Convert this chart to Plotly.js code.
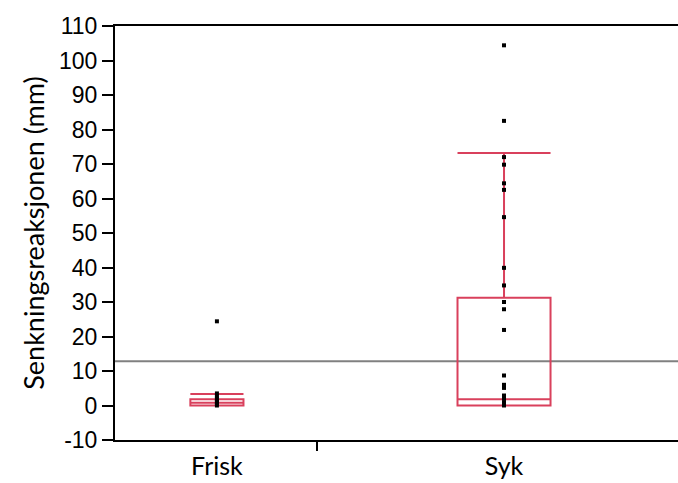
<!DOCTYPE html>
<html>
<head>
<meta charset="utf-8">
<script src="https://cdn.plot.ly/plotly-3.0.1.min.js"></script>
<style>html,body{margin:0;padding:0;background:#fff;}#chart{width:678px;height:483px;}</style>
</head>
<body>
<div id="chart"></div>
<script>
const categories = ["Frisk", "Syk"];
const friskValues = [24.4, 3.5, 2.8, 2.0, 1.5, 1.0, 0.5, 0];
const sykValues = [104.4, 82.5, 72.0, 69.8, 64.4, 62.5, 54.6, 39.9, 34.8, 30.0, 27.9, 21.9, 8.7, 6.0, 5.1, 2.9, 2.1, 1.0, 0];
// box statistics: [Frisk, Syk]
const q1 = [0, 0];
const medians = [0.8, 1.8];
const q3 = [1.8, 31.2];
const lowerFence = [0, 0];
const upperFence = [3.3, 73.2];
const boxWidths = [0.185, 0.324];
const referenceLine = [12.8];
const yTicks = [-10, 0, 10, 20, 30, 40, 50, 60, 70, 80, 90, 100, 110];
const separatorTick = [0.348];

const boxColor = "#d9405c";
const xRange = [-0.355, 1.606];

const traces = [];
categories.forEach((c, i) => {
  traces.push({
    type: "box", x: [c], q1: [q1[i]], median: [medians[i]], q3: [q3[i]],
    lowerfence: [lowerFence[i]], upperfence: [upperFence[i]],
    width: boxWidths[i], whiskerwidth: 1, boxpoints: false,
    line: {color: boxColor, width: 2}, fillcolor: "rgba(255,255,255,0)",
    hoverinfo: "skip", showlegend: false
  });
});
[friskValues, sykValues].forEach((vals, i) => {
  traces.push({
    type: "scatter", mode: "markers",
    x: vals.map(() => categories[i]), y: vals,
    marker: {symbol: "square", size: 4, color: "#000"},
    showlegend: false
  });
});
// invisible trace to activate the separator-tick axis
traces.push({type: "scatter", mode: "markers", x: separatorTick, y: [null], xaxis: "x2", showlegend: false, hoverinfo: "skip"});

const layout = {
  width: 678, height: 483,
  margin: {l: 115, r: 0, t: 26, b: 43},
  paper_bgcolor: "#fff", plot_bgcolor: "#fff",
  showlegend: false,
  xaxis: {
    type: "category", categoryorder: "array", categoryarray: categories,
    range: xRange, showgrid: false, zeroline: false,
    showline: true, linecolor: "#000", linewidth: 2, mirror: true,
    ticks: "", ticklabelstandoff: 3,
    tickfont: {family: "Lato, sans-serif", size: 25, color: "#000"}
  },
  xaxis2: {
    overlaying: "x", type: "linear", range: xRange,
    tickvals: separatorTick, ticktext: [""], ticks: "outside", ticklen: 10,
    tickwidth: 2, tickcolor: "#000", showline: false, showgrid: false,
    zeroline: false, showticklabels: false
  },
  yaxis: {
    range: [-10, 110], tickvals: yTicks, ticktext: yTicks.map(String),
    ticks: "outside", ticklen: 11, tickwidth: 2, tickcolor: "#000",
    showline: true, linecolor: "#000", linewidth: 2,
    showgrid: false, zeroline: false,
    tickfont: {family: "Liberation Sans, Arial, sans-serif", size: 23, color: "#000"},
    title: {text: "Senkningsreaksjonen (mm)", font: {family: "Lato, sans-serif", size: 27, color: "#000"}, standoff: 7}
  },
  shapes: referenceLine.map(v => ({
    type: "line", xref: "paper", x0: 0, x1: 1, yref: "y", y0: v, y1: v,
    line: {color: "#808080", width: 2}, layer: "below"
  }))
};

Plotly.newPlot("chart", traces, layout, {displayModeBar: false, staticPlot: true});
</script>
</body>
</html>
